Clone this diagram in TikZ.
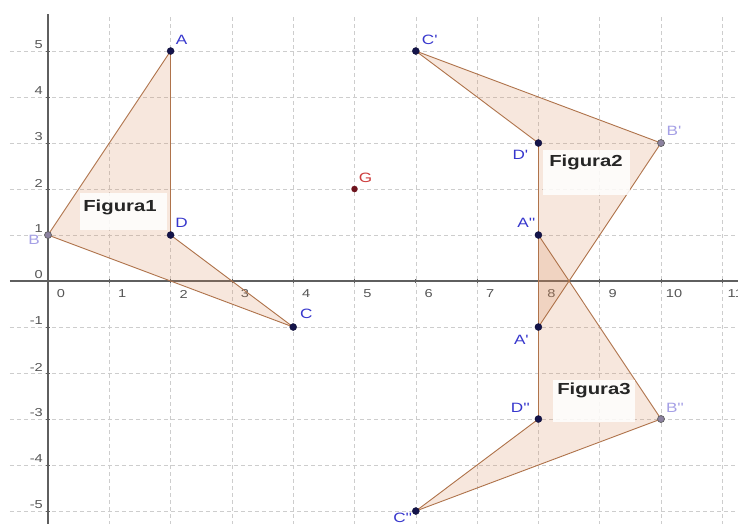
\documentclass[tikz,border=0pt]{standalone}
\usepackage{fontspec}
\setmainfont{Liberation Sans}
\definecolor{gridc}{RGB}{205,205,205}
\definecolor{axisc}{RGB}{95,95,95}
\definecolor{tickc}{RGB}{85,85,85}
\definecolor{labc}{RGB}{55,55,205}
\definecolor{blabc}{RGB}{165,160,230}
\definecolor{edgec}{RGB}{175,115,75}
\definecolor{fillc}{RGB}{215,135,85}
\definecolor{dotc}{RGB}{20,20,75}
\definecolor{bdotc}{RGB}{140,130,160}
\definecolor{gdotc}{RGB}{110,20,30}
\definecolor{glabc}{RGB}{205,60,60}
\newcommand{\hs}[1]{\scalebox{1.27}[1]{#1}}
\newcommand{\pr}{\textquotesingle}
\tikzset{
  gridline/.style={gridc, dashed, dash pattern=on 4pt off 3pt, line width=0.6pt},
  axisline/.style={axisc, line width=1.1pt},
  ticklab/.style={tickc, font=\fontsize{11.5}{12}\selectfont, inner sep=0pt},
  polyfill/.style={fill=fillc, fill opacity=0.2},
  edge/.style={edgec, line width=0.9pt},
  dot/.style={circle, fill=dotc, draw=dotc!70!black, minimum size=7pt, inner sep=0pt},
  bdot/.style={circle, fill=bdotc, draw=axisc, line width=0.7pt, minimum size=7pt, inner sep=0pt},
  gdot/.style={circle, fill=gdotc, minimum size=6.5pt, inner sep=0pt},
  ptlab/.style={labc, font=\fontsize{13.5}{14}\selectfont, inner sep=0pt},
  bptlab/.style={blabc, font=\fontsize{13.5}{14}\selectfont, inner sep=0pt},
  figbox/.style={fill=white, fill opacity=0.85, inner sep=0pt},
  figlab/.style={font=\fontsize{16}{17}\selectfont\bfseries, text=black!85, inner sep=0pt}
}
\begin{document}
\begin{tikzpicture}[x=61.3pt, y=46pt]
\useasboundingbox (-0.783,-5.261) rectangle (11.256,6.109);
\fill[white] (-0.783,-5.261) rectangle (11.256,6.109);
% grid
\foreach \i in {1,...,11} \draw[gridline] (\i,-5.3) -- (\i,5.8);
\foreach \j in {-5,...,-1,1,2,3,4,5} \draw[gridline] (-0.62,\j) -- (11.3,\j);
% axes
\draw[axisline] (-0.62,0) -- (11.3,0);
\draw[axisline] (0,-5.3) -- (0,5.8);
\foreach \i in {1,...,11} \draw[axisc, line width=0.8pt] (\i,0) ++(0,-2pt) -- ++(0,4pt);
\foreach \j in {-5,...,-1,1,2,3,4,5} \draw[axisc, line width=0.8pt] (0,\j) ++(-2pt,0) -- ++(4pt,0);
\foreach \i in {0,...,11} \node[ticklab] (tx\i) at ([shift={(13pt,-13pt)}]\i,0) {\hs{\i}};
\foreach \j in {-5,...,5} \node[ticklab, anchor=east] (ty\j) at ([shift={(-5pt,6pt)}]0,\j) {\hs{\j}};
% points
\coordinate (A) at (2,5);
\coordinate (B) at (0,1);
\coordinate (C) at (4,-1);
\coordinate (D) at (2,1);
\coordinate (A1) at (8,-1);
\coordinate (B1) at (10,3);
\coordinate (C1) at (6,5);
\coordinate (D1) at (8,3);
\coordinate (A2) at (8,1);
\coordinate (B2) at (10,-3);
\coordinate (C2) at (6,-5);
\coordinate (D2) at (8,-3);
\coordinate (G) at (5,2);
% fills
\fill[polyfill] (B) -- (A) -- (D) -- (C) -- cycle;
\fill[polyfill] (C1) -- (B1) -- (A1) -- (D1) -- cycle;
\fill[polyfill] (A2) -- (B2) -- (C2) -- (D2) -- cycle;
% edges
\draw[edge] (B) -- (A);
\draw[edge] (A) -- (D);
\draw[edge] (D) -- (C);
\draw[edge] (C) -- (B);
\draw[edge] (C1) -- (B1);
\draw[edge] (B1) -- (A1);
\draw[edge] (A1) -- (D1);
\draw[edge] (D1) -- (C1);
\draw[edge] (A2) -- (B2);
\draw[edge] (B2) -- (C2);
\draw[edge] (C2) -- (D2);
\draw[edge] (D2) -- (A2);
% figure labels
\path[figbox] (0.522,1.109) rectangle (1.941,1.913);
\node[figlab] (f1) at (1.175,1.609) {\hs{Figura1}};
\path[figbox] (8.075,1.87) rectangle (9.494,2.848);
\node[figlab] (f2) at (8.776,2.587) {\hs{Figura2}};
\path[figbox] (8.238,-3.065) rectangle (9.576,-2.152);
\node[figlab] (f3) at (8.907,-2.37) {\hs{Figura3}};
% dots
\node[dot] (pA) at (A) {};
\node[bdot] (pB) at (B) {};
\node[dot] (pC) at (C) {};
\node[dot] (pD) at (D) {};
\node[dot] (pA1) at (A1) {};
\node[bdot] (pB1) at (B1) {};
\node[dot] (pC1) at (C1) {};
\node[dot] (pD1) at (D1) {};
\node[dot] (pA2) at (A2) {};
\node[bdot] (pB2) at (B2) {};
\node[dot] (pC2) at (C2) {};
\node[dot] (pD2) at (D2) {};
\node[gdot] (pG) at (G) {};
% point labels
\node[ptlab] (lA) at ([shift={(11pt,11pt)}]A) {\hs{A}};
\node[bptlab] (lB) at ([shift={(-14pt,-5pt)}]B) {\hs{B}};
\node[ptlab] (lC) at ([shift={(13pt,13pt)}]C) {\hs{C}};
\node[ptlab] (lD) at ([shift={(11pt,12pt)}]D) {\hs{D}};
\node[ptlab] (lA1) at ([shift={(-17pt,-13pt)}]A1) {\hs{A\pr}};
\node[bptlab] (lB1) at ([shift={(13pt,12pt)}]B1) {\hs{B\pr}};
\node[ptlab] (lC1) at ([shift={(14pt,11pt)}]C1) {\hs{C\pr}};
\node[ptlab] (lD1) at ([shift={(-18pt,-12pt)}]D1) {\hs{D\pr}};
\node[ptlab] (lA2) at ([shift={(-12pt,12pt)}]A2) {\hs{A\pr\pr}};
\node[bptlab] (lB2) at ([shift={(14pt,11pt)}]B2) {\hs{B\pr\pr}};
\node[ptlab] (lC2) at ([shift={(-13pt,-7pt)}]C2) {\hs{C\pr\pr}};
\node[ptlab] (lD2) at ([shift={(-18pt,11pt)}]D2) {\hs{D\pr\pr}};
\node[glabc, font=\fontsize{13.5}{14}\selectfont, inner sep=0pt] (lG) at ([shift={(11pt,11pt)}]G) {\hs{G}};
\end{tikzpicture}
\end{document}
